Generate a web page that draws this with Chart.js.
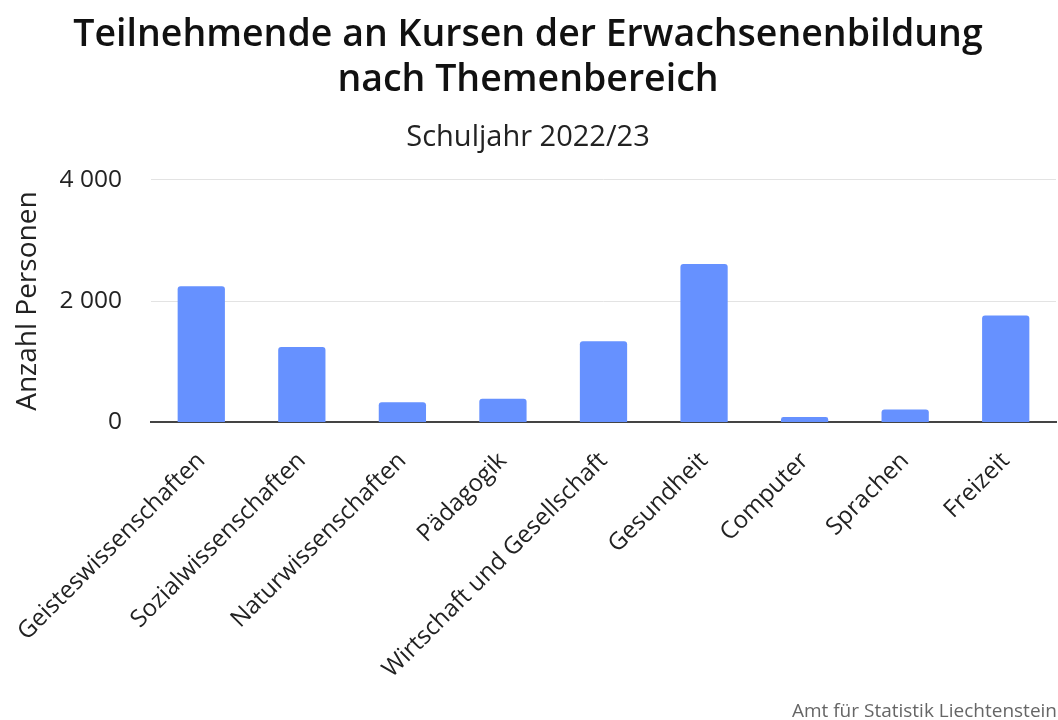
<!DOCTYPE html>
<html>
<head>
<meta charset="utf-8">
<script src="https://cdn.jsdelivr.net/npm/chart.js@4"></script>
<style>
  html, body { margin: 0; padding: 0; background: #fff; }
  #wrap { position: relative; width: 1058px; height: 720px; }
  #source { position: absolute; right: 1px; bottom: -3px; font: 19px "Open Sans", sans-serif; color: #666; }
</style>
</head>
<body>
<div id="wrap">
  <canvas id="chart" width="1058" height="720"></canvas>
  <div id="source">Amt für Statistik Liechtenstein</div>
</div>
<script>
// ── DATA ─────────────────────────────────────
const categories = ['Geisteswissenschaften', 'Sozialwissenschaften', 'Naturwissenschaften', 'Pädagogik',
  'Wirtschaft und Gesellschaft', 'Gesundheit', 'Computer', 'Sprachen', 'Freizeit'];
const persons = [2244, 1242, 332, 390, 1337, 2610, 90, 211, 1762];
const yTicks = [0, 2000, 4000];

const FONT = '"Open Sans"';
const Y_AXIS_WIDTH = 151;
const fmt = v => String(v).replace(/\B(?=(\d{3})+(?!\d))/g, ' ');

// ── CHART ────────────────────────────────────
const ctx = document.getElementById('chart').getContext('2d');
new Chart(ctx, {
  type: 'bar',
  data: {
    labels: categories,
    datasets: [{
      label: 'Anzahl Personen',
      data: persons,
      backgroundColor: '#6691ff',
      borderRadius: 3,
      borderSkipped: 'bottom',
      barPercentage: 0.94,
      categoryPercentage: 0.5,
    }]
  },
  options: {
    responsive: false, animation: false,
    layout: { padding: { left: 0, right: 2, top: 0, bottom: 20 } },
    plugins: {
      legend: { display: false },
      tooltip: { enabled: false },
      title: {
        display: true,
        text: ['Teilnehmende an Kursen der Erwachsenenbildung', 'nach Themenbereich'],
        color: '#111',
        font: { family: FONT, size: 37.5, weight: '600', lineHeight: 1.2 },
        padding: { top: 13, bottom: 17 }
      },
      subtitle: {
        display: true,
        text: 'Schuljahr 2022/23',
        color: '#222',
        font: { family: FONT, size: 29 },
        padding: { bottom: 25 }
      }
    },
    scales: {
      x: {
        // the rotated first label may hang over the y axis area, as in the original
        afterFit: s => { s.paddingLeft = 0; },
        grid: { display: false },
        border: { color: '#444', width: 2 },
        ticks: {
          color: '#222', minRotation: 45, maxRotation: 45, padding: 18,
          font: { family: FONT, size: 24, lineHeight: 1.0 }
        }
      },
      y: {
        min: 0, max: 4000,
        afterBuildTicks: s => { s.ticks = yTicks.map(v => ({ value: v })); },
        afterFit: s => { s.width = Y_AXIS_WIDTH; },
        border: { display: false },
        grid: { color: '#e3e3e3', lineWidth: 1, drawTicks: false },
        ticks: {
          color: '#222', padding: 29,
          font: { family: FONT, size: 24.5 },
          callback: v => fmt(v)
        },
        title: {
          display: true, text: 'Anzahl Personen', color: '#222',
          font: { family: FONT, size: 28 }, padding: { top: 11, bottom: 2 }
        }
      }
    }
  }
});
</script>
</body>
</html>
